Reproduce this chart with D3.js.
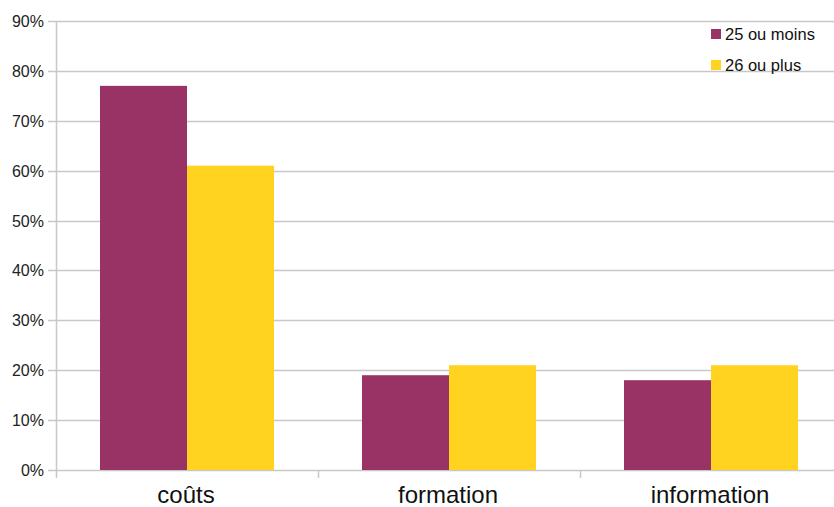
<!DOCTYPE html>
<html>
<head>
<meta charset="utf-8">
<script src="https://cdn.jsdelivr.net/npm/d3@7"></script>
<style>
  body { margin: 0; background: #fff; }
  text { font-family: "Liberation Sans", Arial, sans-serif; }
</style>
</head>
<body>
<svg id="chart" width="834" height="507"></svg>
<script>
const categories = ["coûts", "formation", "information"];
const seriesNames = ["25 ou moins", "26 ou plus"];
const seriesColors = ["#993366", "#ffd320"];
const valuesYoung = [0.77, 0.19, 0.18];
const valuesOld = [0.61, 0.21, 0.21];
const yTicks = [0, 0.1, 0.2, 0.3, 0.4, 0.5, 0.6, 0.7, 0.8, 0.9];

const margin = { top: 21, left: 56, bottom: 37 };
const svg = d3.select("#chart");
const height = 507 - margin.top - margin.bottom;
const bandW = 262;

const xScale = d3.scaleBand()
  .domain(categories)
  .range([margin.left, margin.left + bandW * categories.length])
  .paddingInner(0)
  .paddingOuter(0);

const yScale = d3.scaleLinear()
  .domain([0, 0.9])
  .range([margin.top + height, margin.top]);

// grid lines
svg.append("g")
  .selectAll("line")
  .data(yTicks)
  .join("line")
  .attr("x1", margin.left - 8)
  .attr("x2", 834)
  .attr("y1", (d) => Math.round(yScale(d)) + 0.5)
  .attr("y2", (d) => Math.round(yScale(d)) + 0.5)
  .attr("stroke", "#c8c8c8")
  .attr("stroke-width", 1.5);

// y labels
svg.append("g")
  .selectAll("text")
  .data(yTicks)
  .join("text")
  .attr("x", margin.left - 12)
  .attr("y", (d) => yScale(d) + 6)
  .attr("text-anchor", "end")
  .attr("font-size", 16)
  .attr("fill", "#222")
  .text((d) => d3.format(".0%")(d));

// y axis line
svg.append("line")
  .attr("x1", margin.left + 0.5)
  .attr("x2", margin.left + 0.5)
  .attr("y1", margin.top)
  .attr("y2", yScale(0) + 8)
  .attr("stroke", "#c8c8c8")
  .attr("stroke-width", 1.5);

// x ticks at band boundaries
const boundaries = categories.map((c) => xScale(c)).concat([xScale.range()[1]]);
svg.append("g")
  .selectAll("line")
  .data(boundaries.slice(1))
  .join("line")
  .attr("x1", (d) => d + 0.5)
  .attr("x2", (d) => d + 0.5)
  .attr("y1", yScale(0))
  .attr("y2", yScale(0) + 8)
  .attr("stroke", "#c8c8c8")
  .attr("stroke-width", 1.5);

// bars
const barW = 87;
const offset = (bandW - 2 * barW) / 2;
const series = [valuesYoung, valuesOld];
series.forEach(function (vals, s) {
  svg.append("g")
    .selectAll("rect")
    .data(categories)
    .join("rect")
    .attr("x", (c) => xScale(c) + offset + s * barW)
    .attr("y", (c, i) => yScale(vals[i]))
    .attr("width", barW)
    .attr("height", (c, i) => yScale(0) - yScale(vals[i]))
    .attr("fill", seriesColors[s]);
});

// category labels
svg.append("g")
  .selectAll("text")
  .data(categories)
  .join("text")
  .attr("x", (c) => xScale(c) + xScale.bandwidth() / 2 - 1)
  .attr("y", 503)
  .attr("text-anchor", "middle")
  .attr("font-size", 24)
  .attr("fill", "#111")
  .text((c) => c);

// legend
const legend = svg.append("g").attr("transform", "translate(711, 29)");
seriesNames.forEach(function (name, i) {
  legend.append("rect")
    .attr("x", 0)
    .attr("y", i * 31)
    .attr("width", 10)
    .attr("height", 10)
    .attr("fill", seriesColors[i]);
  legend.append("text")
    .attr("x", 14)
    .attr("y", i * 31 + 10.5)
    .attr("font-size", 16.5)
    .attr("fill", "#111")
    .text(name);
});
</script>
</body>
</html>
